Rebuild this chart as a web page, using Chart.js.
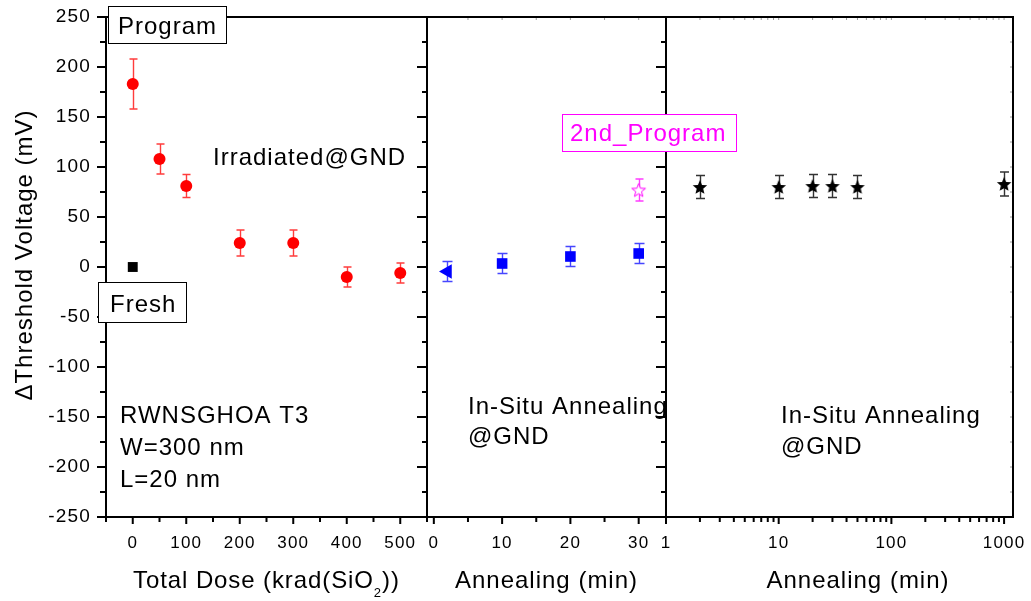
<!DOCTYPE html>
<html><head><meta charset="utf-8">
<script src="https://cdn.jsdelivr.net/npm/chart.js@4/dist/chart.umd.min.js"></script>
<style>html,body{margin:0;padding:0;background:#fff}canvas{display:block}</style>
</head><body>
<canvas id="c" width="1031" height="601"></canvas>
<script>
// ---------- data ----------
const freshDose = [0];
const freshShift = [0];

const doseKrad = [0, 50, 100, 200, 300, 400, 500];
const doseShift = [183, 108, 81, 24, 24, -10, -6];
const doseErr = [25, 15, 11.5, 13, 13, 10, 10];

const annealStartMin = [2];
const annealStartShift = [-4.5];
const annealStartErr = [10];

const anneal1Min = [10, 20, 30];
const anneal1Shift = [3.5, 10.5, 13.5];
const anneal1Err = [10, 10, 10];

const reprogMin = [30];
const reprogShift = [77];
const reprogErr = [11];

const anneal2Min = [2, 10, 20, 30, 50, 1000];
const anneal2Shift = [80, 80, 81, 81, 80, 83];
const anneal2Err = [11.5, 11.5, 11.5, 11.5, 11.5, 12];

const yTicks = [-250, -200, -150, -100, -50, 0, 50, 100, 150, 200, 250];
const doseTicks = [0, 100, 200, 300, 400, 500];
const linTicks = [0, 10, 20, 30];
const logTicks = [1, 10, 100, 1000];

// ---------- helpers ----------
const FONT = "'Liberation Sans', Arial, Helvetica, sans-serif";
Chart.defaults.font.family = FONT;

function pts(xs, ys) { return xs.map((x, i) => ({x: x, y: ys[i]})); }

function starCanvas(R, ratio, fill, stroke, lw) {
  const s = Math.ceil(2 * R + 4);
  const c = document.createElement('canvas');
  c.width = s; c.height = s;
  const g = c.getContext('2d');
  g.translate(s / 2, s / 2 + R * 0.095);
  g.beginPath();
  for (let i = 0; i < 10; i++) {
    const a = -Math.PI / 2 + i * Math.PI / 5;
    const rr = i % 2 ? R * ratio : R;
    g.lineTo(rr * Math.cos(a), rr * Math.sin(a));
  }
  g.closePath();
  if (fill) { g.fillStyle = fill; g.fill(); }
  if (stroke) { g.strokeStyle = stroke; g.lineWidth = lw; g.stroke(); }
  return c;
}
const blackStar = starCanvas(7.6, 0.45, '#000', null, 0);
const openStar = starCanvas(7.2, 0.42, '#fff', '#ff00ff', 1);

// ---------- plugins ----------
const TICK_SP = '1.2px';
const spacingPlugin = {
  id: 'spacing',
  beforeUpdate(c) { c.ctx.letterSpacing = TICK_SP; },
  beforeDraw(c) { c.ctx.letterSpacing = TICK_SP; }
};

const errorBarPlugin = {
  id: 'errbars',
  beforeDatasetsDraw(chart) {
    const ctx = chart.ctx;
    const ys = chart.scales.y;
    chart.data.datasets.forEach(ds => {
      if (!ds.errors) return;
      const xs = chart.scales[ds.xAxisID];
      ctx.save();
      ctx.strokeStyle = ds.errorColor;
      ctx.lineWidth = 1.4;
      ds.data.forEach((p, j) => {
        const px = Math.round(xs.getPixelForValue(p.x)) + 0.5;
        const yt = ys.getPixelForValue(p.y + ds.errors[j]);
        const yb = ys.getPixelForValue(p.y - ds.errors[j]);
        const h = ds.capHalf;
        ctx.beginPath();
        ctx.moveTo(px, yt); ctx.lineTo(px, yb);
        ctx.moveTo(px - h, yt); ctx.lineTo(px + h, yt);
        ctx.moveTo(px - h, yb); ctx.lineTo(px + h, yb);
        ctx.stroke();
      });
      ctx.restore();
    });
  }
};

const framePlugin = {
  id: 'frame',
  beforeDatasetsDraw(chart) {
    const ctx = chart.ctx;
    const {y, x1, x2, x3} = chart.scales;
    const top = y.top, bot = y.bottom;
    ctx.save();
    ctx.lineCap = 'butt';
    ctx.strokeStyle = '#000';
    ctx.lineWidth = 2;
    ctx.beginPath();
    for (let v = -250; v <= 250; v += 25) {
      const p = y.getPixelForValue(v);
      const major = v % 50 === 0;
      if (v !== 250 && v !== -250) {
        ctx.moveTo(x1.left - (major ? 9 : 6), p); ctx.lineTo(x1.left, p);
        ctx.moveTo(x1.right - (major ? 10 : 5), p); ctx.lineTo(x1.right, p);
        ctx.moveTo(x2.right - (major ? 10 : 5), p); ctx.lineTo(x2.right, p);
      } else {
        ctx.moveTo(x1.left - 9, p); ctx.lineTo(x1.left, p);
      }
    }
    for (let v = -50; v <= 550; v += 50) {
      const p = x1.getPixelForValue(v);
      const major = v % 100 === 0 && v >= 0 && v <= 500;
      ctx.moveTo(p, bot); ctx.lineTo(p, bot + (major ? 7 : 5));
    }
    for (let v = 0; v <= 30; v += 5) {
      const p = x2.getPixelForValue(v);
      ctx.moveTo(p, bot); ctx.lineTo(p, bot + (v % 10 === 0 ? 7 : 5));
    }
    for (let d = 1; d <= 1000; d *= 10) {
      for (let m = 1; m <= 9; m++) {
        const v = m * d;
        if (v > 1200) break;
        const p = x3.getPixelForValue(v);
        ctx.moveTo(p, bot); ctx.lineTo(p, bot + (m === 1 ? 7 : 5));
      }
    }
    ctx.stroke();
    ctx.strokeStyle = '#9a9a9a';
    ctx.lineWidth = 1;
    ctx.beginPath();
    for (let v = 5; v <= 30; v += 5) {
      const p = x2.getPixelForValue(v);
      ctx.moveTo(p, top); ctx.lineTo(p, top + 3);
    }
    for (let d = 1; d <= 1000; d *= 10) {
      for (let m = 1; m <= 9; m++) {
        const v = m * d;
        if (v > 1200 || v === 1) continue;
        const p = x3.getPixelForValue(v);
        ctx.moveTo(p, top); ctx.lineTo(p, top + 3);
      }
    }
    for (let v = -225; v <= 225; v += 25) {
      const p = y.getPixelForValue(v);
      ctx.moveTo(x3.right - 3, p); ctx.lineTo(x3.right, p);
    }
    ctx.stroke();
    ctx.strokeStyle = '#000';
    ctx.lineWidth = 2;
    [x1, x2, x3].forEach(s => {
      ctx.strokeRect(s.left, top, s.right - s.left, bot - top);
    });
    ctx.restore();
  }
};

function spaced(ctx, size, sp) {
  ctx.font = size + 'px ' + FONT;
  ctx.letterSpacing = sp + 'px';
}

const textPlugin = {
  id: 'texts',
  afterDraw(chart) {
    const ctx = chart.ctx;
    const {y, x1, x2, x3} = chart.scales;
    ctx.save();
    ctx.textBaseline = 'alphabetic';
    ctx.textAlign = 'left';
    ctx.fillStyle = '#000';
    spaced(ctx, 24, 1);

    function box(x0, y0, x1b, y1b, color) {
      ctx.save();
      ctx.letterSpacing = '0px';
      ctx.fillStyle = '#fff';
      ctx.fillRect(x0, y0, x1b - x0, y1b - y0);
      ctx.strokeStyle = color;
      ctx.lineWidth = 1;
      ctx.strokeRect(x0 + 0.5, y0 + 0.5, x1b - x0 - 1, y1b - y0 - 1);
      ctx.restore();
    }
    box(108, 6, 227, 44, '#000');
    ctx.fillText('Program', 118, 33.5);
    box(98, 282, 187, 323, '#000');
    ctx.fillText('Fresh', 110, 311.5);
    box(562, 114, 737, 152, '#ff00ff');
    ctx.fillStyle = '#ff00ff';
    ctx.fillText('2nd_Program', 570, 141);
    ctx.fillStyle = '#000';

    ctx.fillText('Irradiated@GND', 213, 164.5);
    ctx.fillText('RWNSGHOA T3', 120, 422.5);
    ctx.fillText('W=300 nm', 120, 455);
    ctx.fillText('L=20 nm', 120, 486.5);
    ctx.fillText('In-Situ Annealing', 468, 413.5);
    ctx.fillText('@GND', 468, 443.5);
    ctx.fillText('In-Situ Annealing', 781, 422.5);
    ctx.fillText('@GND', 781, 453.5);

    const t1a = 'Total Dose (krad(SiO', t1s = '2', t1b = '))';
    spaced(ctx, 24, 0.9);
    const wA = ctx.measureText(t1a).width, wB = ctx.measureText(t1b).width;
    spaced(ctx, 13, 1);
    const wS = ctx.measureText(t1s).width;
    const cx1 = (x1.left + x1.right) / 2;
    let sx = cx1 - (wA + wS + wB) / 2;
    spaced(ctx, 24, 0.9);
    ctx.fillText(t1a, sx, 588);
    spaced(ctx, 13, 1);
    ctx.fillText(t1s, sx + wA, 597);
    spaced(ctx, 24, 0.9);
    ctx.fillText(t1b, sx + wA + wS, 588);

    ctx.textAlign = 'center';
    spaced(ctx, 24, 1);
    ctx.fillText('Annealing (min)', (x2.left + x2.right) / 2, 588);
    ctx.fillText('Annealing (min)', 858, 588);

    ctx.save();
    ctx.translate(32, 255);
    ctx.rotate(-Math.PI / 2);
    ctx.fillText('\u0394Threshold Voltage (mV)', 0, 0);
    ctx.restore();

    ctx.restore();
  }
};

// ---------- chart ----------
const gridOpts = {display: true, drawOnChartArea: false, drawTicks: true, tickLength: 8, color: 'rgba(0,0,0,0)'};
const tickFontX = {family: FONT, size: 17};
function fitX(s) { s.height = 84; s.paddingLeft = 0; s.paddingRight = 0; }

new Chart(document.getElementById('c'), {
  type: 'scatter',
  data: {
    datasets: [
      {
        label: 'Fresh', xAxisID: 'x1', yAxisID: 'y',
        data: pts(freshDose, freshShift),
        pointStyle: 'rect', pointRadius: 7, backgroundColor: '#000', borderColor: '#000', borderWidth: 0
      },
      {
        label: 'Irradiated', xAxisID: 'x1', yAxisID: 'y',
        data: pts(doseKrad, doseShift), errors: doseErr, errorColor: '#ff3c3c', capHalf: 4,
        pointStyle: 'circle', pointRadius: 6, backgroundColor: '#ff0000', borderColor: '#ff0000', borderWidth: 0
      },
      {
        label: 'Anneal start', xAxisID: 'x2', yAxisID: 'y',
        data: pts(annealStartMin, annealStartShift), errors: annealStartErr, errorColor: '#4646ff', capHalf: 5,
        pointStyle: 'triangle', pointRotation: -90, pointRadius: 8.5, backgroundColor: '#0000ff', borderColor: '#0000ff', borderWidth: 0
      },
      {
        label: 'Anneal', xAxisID: 'x2', yAxisID: 'y',
        data: pts(anneal1Min, anneal1Shift), errors: anneal1Err, errorColor: '#4646ff', capHalf: 5,
        pointStyle: 'rect', pointRadius: 7.5, backgroundColor: '#0000ff', borderColor: '#0000ff', borderWidth: 0
      },
      {
        label: '2nd_Program', xAxisID: 'x2', yAxisID: 'y',
        data: pts(reprogMin, reprogShift), errors: reprogErr, errorColor: '#ff3cff', capHalf: 4,
        pointStyle: openStar, pointRadius: 7
      },
      {
        label: 'Anneal 2', xAxisID: 'x3', yAxisID: 'y',
        data: pts(anneal2Min, anneal2Shift), errors: anneal2Err, errorColor: '#333', capHalf: 4.5,
        pointStyle: blackStar, pointRadius: 7
      }
    ]
  },
  options: {
    responsive: false,
    animation: false,
    devicePixelRatio: 1,
    layout: {padding: {left: 0, right: 18, top: 17, bottom: 0}},
    plugins: {legend: {display: false}, tooltip: {enabled: false}},
    scales: {
      x1: {
        type: 'linear', position: 'bottom', stack: 'panels', stackWeight: 321,
        min: -50, max: 550,
        afterBuildTicks: s => { s.ticks = doseTicks.map(v => ({value: v})); },
        afterFit: fitX,
        grid: gridOpts, border: {display: false},
        ticks: {font: tickFontX, color: '#000', padding: 8, maxRotation: 0, autoSkip: false, callback: v => String(v)}
      },
      x2: {
        type: 'linear', position: 'bottom', stack: 'panels', stackWeight: 239,
        min: -1, max: 34,
        afterBuildTicks: s => { s.ticks = linTicks.map(v => ({value: v})); },
        afterFit: fitX,
        grid: gridOpts, border: {display: false},
        ticks: {font: tickFontX, color: '#000', padding: 8, maxRotation: 0, autoSkip: false, callback: v => String(v)}
      },
      x3: {
        type: 'logarithmic', position: 'bottom', stack: 'panels', stackWeight: 347,
        min: 1, max: 1200,
        afterBuildTicks: s => { s.ticks = logTicks.map(v => ({value: v})); },
        afterFit: fitX,
        grid: gridOpts, border: {display: false},
        ticks: {font: tickFontX, color: '#000', padding: 8, maxRotation: 0, autoSkip: false, callback: v => String(v)}
      },
      y: {
        type: 'linear', position: 'left',
        min: -250, max: 250,
        afterBuildTicks: s => { s.ticks = yTicks.map(v => ({value: v})); },
        afterFit: s => { s.width = 106; s.paddingTop = 0; s.paddingBottom = 0; },
        grid: Object.assign({}, gridOpts, {tickLength: 9}), border: {display: false},
        ticks: {font: {family: FONT, size: 19}, color: '#000', padding: 6, autoSkip: false, callback: v => String(v)}
      }
    }
  },
  plugins: [spacingPlugin, errorBarPlugin, framePlugin, textPlugin]
});
</script>
</body></html>
